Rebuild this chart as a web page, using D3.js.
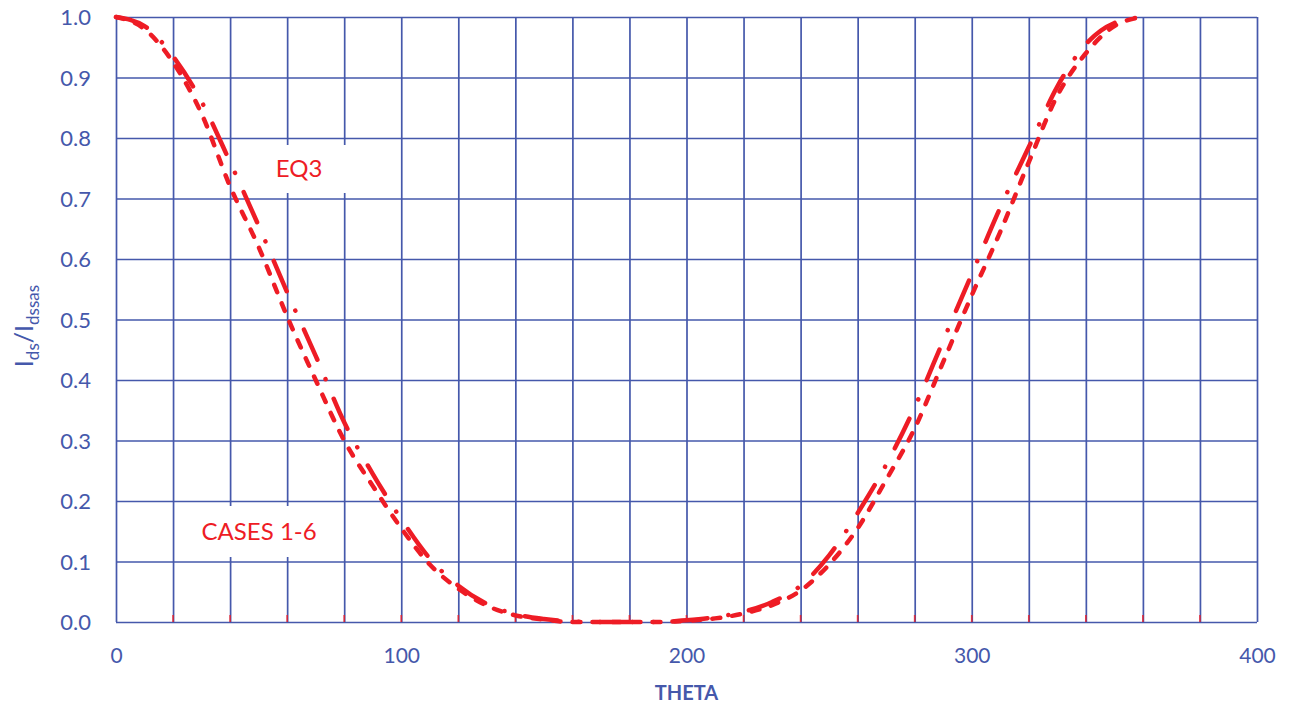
<!DOCTYPE html>
<meta charset="utf-8">
<body style="margin:0;background:#fff">
<script src="https://cdn.jsdelivr.net/npm/d3@7"></script>
<script>
// theta values (deg) and the two curves
var theta = [0,10,20,30,40,50,60,70,80,90,100,110,120,130,140,150,160,170,180,
             190,200,210,220,230,240,250,260,270,280,290,300,310,320,330,340,350,360];
// dash-dot curve (outer one)
var eq3 = [1.0,0.985,0.935,0.86,0.76,0.655,0.545,0.44,0.33,0.245,0.17,0.105,0.06,0.03,0.013,0.005,0.001,0,0,
           0,0.003,0.008,0.017,0.033,0.06,0.11,0.18,0.26,0.355,0.465,0.575,0.685,0.785,0.885,0.955,0.99,1.0];
// dashed curve (inner one)
var cases = [1.0,0.98,0.925,0.84,0.72,0.62,0.505,0.40,0.30,0.225,0.155,0.095,0.055,0.027,0.011,0.004,0,0,0,
             0,0.002,0.006,0.014,0.028,0.052,0.095,0.155,0.235,0.32,0.43,0.54,0.645,0.76,0.87,0.94,0.985,1.0];
var yTicks = [0,0.1,0.2,0.3,0.4,0.5,0.6,0.7,0.8,0.9,1.0];
var xTicks = d3.range(0, 401, 20);
var labels = [{text:"EQ3", t:56, v:0.75}, {text:"CASES 1-6", t:30, v:0.15}];

var W = 1296, H = 709;
var padL = 116, padR = 1257, padT = 17, padB = 622;
var blue = "#4558ab", red = "#ee1c25";
var font = "Lato, 'Open Sans', sans-serif";

var svg = d3.select("body").append("svg")
	.attr("width", W).attr("height", H)
	.style("font-family", font);

var x = d3.scaleLinear().domain([0, 400]).range([padL, padR]);
var y = d3.scaleLinear().domain([0, 1]).range([padB, padT]);

//grid + y labels
var yAxis = svg.append("g")
	.attr("transform", "translate(" + padL + ",0)")
	.call(d3.axisLeft(y).tickValues(yTicks).tickFormat(d3.format(".1f"))
		.tickSize(-(padR - padL)).tickPadding(25));
yAxis.select(".domain").remove();
yAxis.selectAll("line").attr("stroke", blue).attr("stroke-width", 1.7);
yAxis.selectAll("text").attr("fill", blue).attr("font-size", 22).attr("font-family", font)
	.attr("x", -25).attr("dy", "0.35em");

//grid + x labels
var xAxis = svg.append("g")
	.attr("transform", "translate(0," + padB + ")")
	.call(d3.axisBottom(x).tickValues(xTicks)
		.tickFormat(function(d){ return d % 100 === 0 ? d : ""; })
		.tickSize(-(padB - padT)));
xAxis.select(".domain").remove();
xAxis.selectAll("line").attr("stroke", blue).attr("stroke-width", 1.7);
xAxis.selectAll("text").attr("fill", blue).attr("font-size", 21).attr("font-family", font)
	.attr("y", 41).attr("dy", 0);

// small red tick marks on the bottom
svg.append("g").selectAll("line")
	.data(xTicks.filter(function(d){ return d > 0 && d < 400; }))
	.enter().append("line")
	.attr("x1", function(d){ return x(d); }).attr("x2", function(d){ return x(d); })
	.attr("y1", padB - 7).attr("y2", padB)
	.attr("stroke", red).attr("stroke-width", 1.7).attr("opacity", 0.8);

// white boxes behind the labels
svg.append("rect").attr("x", 262).attr("y", 145).attr("width", 98).attr("height", 48).attr("fill", "#fff");
svg.append("rect").attr("x", 186).attr("y", 506).attr("width", 146).attr("height", 51).attr("fill", "#fff");

var line = d3.line().curve(d3.curveMonotoneX);

svg.append("path")
	.attr("d", line(theta.map(function(t, i){ return [x(t), y(cases[i])]; })))
	.attr("fill", "none").attr("stroke", red).attr("stroke-width", 4.5)
	.attr("stroke-linecap", "round")
	.attr("stroke-dasharray", "8,12");

svg.append("path")
	.attr("d", line(theta.map(function(t, i){ return [x(t), y(eq3[i])]; })))
	.attr("fill", "none").attr("stroke", red).attr("stroke-width", 4.5)
	.attr("stroke-linecap", "round")
	.attr("stroke-dasharray", "33,21,0.1,21");

// labels
svg.selectAll(".lbl").data(labels).enter().append("text")
	.attr("class", "lbl")
	.attr("x", function(d){ return x(d.t); })
	.attr("y", function(d){ return y(d.v) + 9; })
	.attr("fill", red).attr("font-size", 24)
	.text(function(d){ return d.text; });

// axis titles
svg.append("text")
	.attr("x", (padL + padR) / 2).attr("y", 700)
	.attr("text-anchor", "middle").attr("fill", blue)
	.attr("font-size", 20).attr("font-weight", "bold")
	.text("THETA");

var yt = svg.append("text")
	.attr("transform", "translate(33,326) rotate(-90)")
	.attr("text-anchor", "middle").attr("fill", blue).attr("font-size", 25);
yt.append("tspan").text("I");
yt.append("tspan").attr("font-size", 17).attr("dy", 6).text("ds");
yt.append("tspan").attr("dy", -6).text("/I");
yt.append("tspan").attr("font-size", 17).attr("dy", 6).text("dssas");
</script>
</body>
